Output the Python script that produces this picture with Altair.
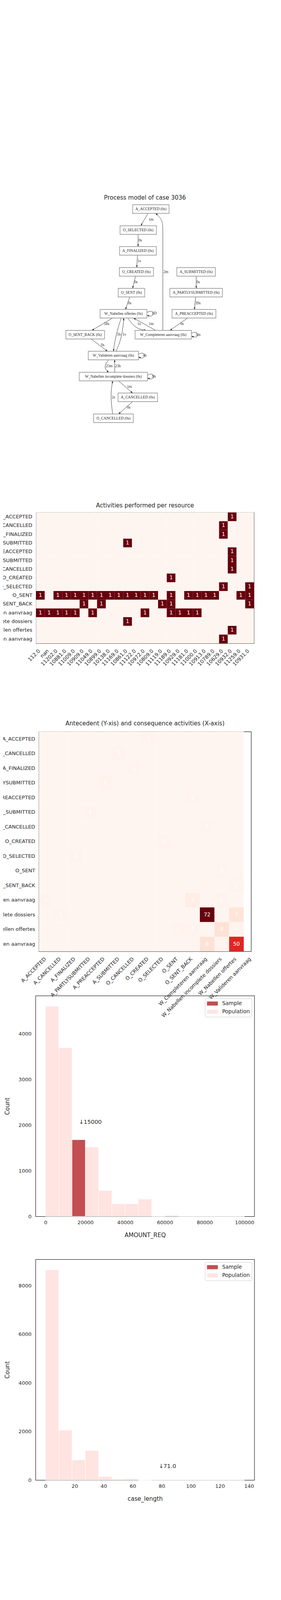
import json

import altair as alt
import numpy as np
import pandas as pd

FONT = "DejaVu Sans"
SERIF = "Liberation Serif"
INK = "#262626"

# ---------------------------------------------------------
# DATA
# ---------------------------------------------------------
ACTIVITIES = [
    "A_ACCEPTED", "A_CANCELLED", "A_FINALIZED", "A_PARTLYSUBMITTED",
    "A_PREACCEPTED", "A_SUBMITTED", "O_CANCELLED", "O_CREATED",
    "O_SELECTED", "O_SENT", "O_SENT_BACK", "W_Completeren aanvraag",
    "W_Nabellen incomplete dossiers", "W_Nabellen offertes",
    "W_Valideren aanvraag",
]

RESOURCES = [
    "112.0", "nan", "11202.0", "10881.0", "11009.0", "10909.0", "11049.0",
    "10899.0", "10138.0", "11169.0", "10861.0", "11122.0", "10972.0",
    "10809.0", "11119.0", "11189.0", "10929.0", "11181.0", "11000.0",
    "10913.0", "10789.0", "10629.0", "10932.0", "11259.0", "10931.0",
]

# index of the resources (in RESOURCES) that performed each activity once
PERFORMED_BY = {
    "A_ACCEPTED": [22],
    "A_CANCELLED": [21],
    "A_FINALIZED": [21],
    "A_PARTLYSUBMITTED": [10],
    "A_PREACCEPTED": [22],
    "A_SUBMITTED": [22],
    "O_CANCELLED": [22],
    "O_CREATED": [15],
    "O_SELECTED": [21, 24],
    "O_SENT": [0, 2, 3, 4, 5, 6, 7, 8, 9, 10, 11, 12, 13, 15, 17, 18, 19, 20, 23, 24],
    "O_SENT_BACK": [5, 7, 14, 15, 24],
    "W_Completeren aanvraag": [0, 1, 2, 3, 4, 6, 12, 15, 16, 17, 18],
    "W_Nabellen incomplete dossiers": [10],
    "W_Nabellen offertes": [22],
    "W_Valideren aanvraag": [21],
}

# antecedent (rows) x consequence (14 columns, drawn under the first 14 labels)
TRANSITIONS = [
    [0, 0, 0, 0, 0, 0, 0, 1, 0, 0, 0, 0, 0, 0],
    [0, 0, 0, 0, 0, 1, 0, 0, 0, 0, 0, 0, 0, 0],
    [0, 0, 0, 0, 0, 0, 1, 0, 0, 0, 0, 0, 0, 0],
    [0, 0, 0, 0, 1, 0, 0, 0, 0, 0, 0, 0, 0, 0],
    [0, 0, 0, 0, 0, 0, 0, 0, 0, 0, 1, 0, 0, 0],
    [0, 0, 0, 1, 0, 0, 0, 0, 0, 0, 0, 0, 0, 0],
    [0, 0, 0, 0, 0, 0, 0, 0, 0, 0, 0, 1, 0, 0],
    [0, 0, 0, 0, 0, 0, 0, 0, 1, 0, 0, 0, 0, 0],
    [0, 0, 1, 0, 0, 0, 0, 0, 0, 0, 0, 0, 0, 0],
    [0, 0, 0, 0, 0, 0, 0, 0, 0, 0, 0, 0, 1, 0],
    [0, 0, 0, 0, 0, 0, 0, 0, 0, 0, 0, 0, 0, 1],
    [1, 0, 0, 0, 0, 0, 0, 0, 0, 0, 3, 0, 1, 0],
    [0, 1, 0, 0, 0, 0, 0, 0, 0, 0, 0, 72, 0, 7],
    [0, 0, 0, 0, 0, 0, 0, 0, 0, 1, 1, 0, 8, 1],
    [0, 0, 0, 0, 0, 0, 0, 0, 0, 0, 0, 8, 1, 50],
]

# process model (graph layout points, y grows downwards)
NODE_LABELS = [
    "A_ACCEPTED (0s)", "O_SELECTED (0s)", "A_FINALIZED (0s)", "O_CREATED (0s)",
    "A_SUBMITTED (0s)", "O_SENT (0s)", "A_PARTLYSUBMITTED (0s)",
    "W_Nabellen offertes (0s)", "A_PREACCEPTED (0s)", "O_SENT_BACK (0s)",
    "W_Completeren aanvraag (0s)", "W_Valideren aanvraag (0s)",
    "W_Nabellen incomplete dossiers (0s)", "A_CANCELLED (0s)", "O_CANCELLED (0s)",
]
NODE_X = [386, 353.7, 353, 349, 502, 336.3, 502, 316, 496.5, 217.8, 417.8, 290, 290, 352.5, 290.2]
NODE_Y = [531.3, 585, 638.3, 692, 692, 745.3, 745.3, 799.3, 799.3, 852.8, 852.8, 906.3, 960, 1013.3, 1066.8]
NODE_W = [93.4, 93.3, 94, 87.4, 98.6, 68, 134.6, 120, 112.4, 99, 144.3, 128.6, 174.6, 101, 101.7]
NODE_H = 22

EDGE_LABELS = ["1m", "0s", "1s", "0s", "0s", "0s", "39s", "2m", "3D", "58s", "5h", "1s",
               "1s", "1m", "0s", "5m", "0s", "4h", "23m", "23h", "9h", "1m", "0s", "2s"]
EDGE_POINTS = [
    [(378.7, 542.3), (360.3, 573.7)],
    [(353.3, 596.3), (353.3, 627)],
    [(351.7, 649.7), (350, 680.7)],
    [(346.7, 703.3), (339.3, 734)],
    [(331.7, 756.7), (321, 788.3)],
    [(502.3, 703.3), (502.3, 734)],
    [(500.7, 756.7), (497.7, 788.3)],
    [(416.7, 841.7), (416.7, 700), (416.7, 590), (416.7, 562), (406, 549), (398.3, 542.3)],
    [(376, 795.5), (392, 790), (392, 808), (376, 803)],
    [(287.7, 810.3), (235, 841.7)],
    [(310, 810.3), (302, 835), (295, 862), (290, 895.3)],
    [(296.7, 895.3), (307, 872), (314, 842), (316.7, 810.3)],
    [(326.7, 810.3), (342, 830), (356, 839), (374, 841.7)],
    [(398.3, 841.7), (341.7, 810.3)],
    [(480, 810.3), (435, 841.7)],
    [(490, 849), (506, 843.5), (506, 862), (490, 856.5)],
    [(233.3, 864), (275, 895.3)],
    [(354.3, 902.5), (370, 897), (370, 915.5), (354.3, 910)],
    [(277.7, 917.3), (268, 930), (269, 942), (278.3, 949)],
    [(293.3, 949), (293.3, 917.3)],
    [(377.3, 956.2), (393, 950.5), (393, 969), (377.3, 963.7)],
    [(303.3, 971), (339.3, 1002.3)],
    [(339.3, 1024.3), (303.3, 1055.7)],
    [(288.3, 1055.7), (284, 1025), (284, 995), (288.3, 971)],
]
EDGE_LABEL_X = [380.5, 354.5, 352, 343.5, 327.5, 503, 500, 418.5, 389, 266, 299.3, 313.3,
                351.7, 380.7, 461.7, 501, 258.3, 365.5, 270.7, 294.3, 388.8, 325, 325, 285.7]
EDGE_LABEL_Y = [557.7, 611, 664.3, 718.3, 771.7, 718.3, 771.7, 691.7, 798.3, 825, 851.7, 851.7,
                825, 825, 825, 852.8, 879, 906.3, 932.7, 932.7, 960, 986, 1039.3, 1012.7]
GRAPH_X = [91, 651]
GRAPH_Y = [526, 1092]

# histograms (15 bins each)
AMOUNT_COUNTS = [4603, 3694, 1679, 1517, 569, 277, 277, 379, 0, 25, 0, 0, 0, 0, 0]
AMOUNT_RANGE = [0, 100000]
AMOUNT_SAMPLE = 15000
CASE_COUNTS = [8646, 2054, 830, 1216, 148, 37, 52, 0, 0, 0, 0, 0, 0, 0, 1]
CASE_RANGE = [0, 136.9]
CASE_SAMPLE = 71.0

SAMPLE_COLOR = "#c44e52"
POPULATION_COLOR = "#ffe4e1"
# matplotlib "Reds" colour stops
REDS = ["#fff5f0", "#fee0d2", "#fcbba1", "#fc9272", "#fb6a4a",
        "#ef3b2c", "#cb181d", "#a50f15", "#67000d"]


def reds_scale(vmax):
    return alt.Scale(domain=list(np.linspace(0, vmax, len(REDS))), range=REDS, interpolate="rgb")


# ---------------------------------------------------------
# PROCESS MODEL
# ---------------------------------------------------------
def process_model():
    nodes = pd.DataFrame({"label": NODE_LABELS, "cx": NODE_X, "cy": NODE_Y, "w": NODE_W})
    nodes["x0"] = nodes["cx"] - nodes["w"] / 2
    nodes["x1"] = nodes["cx"] + nodes["w"] / 2
    nodes["y0"] = nodes["cy"] - NODE_H / 2
    nodes["y1"] = nodes["cy"] + NODE_H / 2

    path_rows, heads = [], []
    for i, pts in enumerate(EDGE_POINTS):
        for k, (px, py) in enumerate(pts):
            path_rows.append({"edge": i, "k": k, "px": px, "py": py})
        (ax, ay), (bx, by) = pts[-2], pts[-1]
        dx, dy = bx - ax, by - ay
        n = np.hypot(dx, dy)
        heads.append({
            "px": bx - 2.7 * dx / n,
            "py": by - 2.7 * dy / n,
            "angle": float(np.degrees(np.arctan2(dx, -dy)) % 360),
        })
    paths = pd.DataFrame(path_rows)
    heads = pd.DataFrame(heads)
    labels = pd.DataFrame({"px": EDGE_LABEL_X, "py": EDGE_LABEL_Y, "t": EDGE_LABELS})

    xs = alt.Scale(domain=GRAPH_X, nice=False, zero=False)
    ys = alt.Scale(domain=GRAPH_Y, nice=False, zero=False, reverse=True)

    edges = alt.Chart(paths).mark_line(interpolate="basis", color="#3a3a3a", strokeWidth=1).encode(
        x=alt.X("px:Q", scale=xs, axis=None),
        y=alt.Y("py:Q", scale=ys, axis=None),
        detail="edge:N",
        order="k:Q",
    )
    arrows = alt.Chart(heads).mark_point(
        shape="M0,-1L0.75,1L-0.75,1Z", filled=True, color="#222222", size=30, opacity=1
    ).encode(
        x=alt.X("px:Q", scale=xs, axis=None),
        y=alt.Y("py:Q", scale=ys, axis=None),
        angle=alt.Angle("angle:Q", scale=None),
    )
    boxes = alt.Chart(nodes).mark_rect(fill="white", stroke="#8a8a8a", strokeWidth=1.4).encode(
        x=alt.X("x0:Q", scale=xs, axis=None),
        x2="x1:Q",
        y=alt.Y("y0:Q", scale=ys, axis=None),
        y2="y1:Q",
    )
    names = alt.Chart(nodes).mark_text(font=SERIF, fontSize=9.7, color=INK).encode(
        x=alt.X("cx:Q", scale=xs, axis=None),
        y=alt.Y("cy:Q", scale=ys, axis=None),
        text="label:N",
    )
    times = alt.Chart(labels).mark_text(font=SERIF, fontSize=9.7, color=INK, align="left").encode(
        x=alt.X("px:Q", scale=xs, axis=None),
        y=alt.Y("py:Q", scale=ys, axis=None),
        text="t:N",
    )
    return (edges + arrows + boxes + names + times).properties(
        width=GRAPH_X[1] - GRAPH_X[0],
        height=GRAPH_Y[1] - GRAPH_Y[0],
        title=alt.TitleParams("Process model of case 3036", offset=10),
        view=alt.ViewBackground(strokeOpacity=0),
    )


# ---------------------------------------------------------
# HEATMAPS
# ---------------------------------------------------------
def rotated_x_axis(**extra):
    return alt.Axis(title=None, labelAngle=-45, labelAlign="right", labelBaseline="alphabetic",
                    labelPadding=20, labelOverlap=False, labelFontSize=13, labelLimit=400,
                    **extra)


def left_y_axis():
    return alt.Axis(title=None, labelPadding=10, labelFontSize=13, labelLimit=400, labelOverlap=False)


def resource_heatmap():
    rows = []
    for a in ACTIVITIES:
        for j, r in enumerate(RESOURCES):
            rows.append({"activity": a, "resource": r, "n": 1 if j in PERFORMED_BY[a] else 0})
    df = pd.DataFrame(rows)
    band = alt.Scale(paddingInner=0, paddingOuter=0)
    base = alt.Chart(df).encode(
        x=alt.X("resource:N", sort=RESOURCES, scale=band, axis=rotated_x_axis()),
        y=alt.Y("activity:N", sort=ACTIVITIES, scale=band, axis=left_y_axis()),
    )
    cells = base.mark_rect().encode(color=alt.Color("n:Q", scale=reds_scale(1), legend=None))
    text = base.transform_filter("datum.n > 0").mark_text(color="white", fontSize=13.5).encode(text="n:Q")
    return (cells + text).properties(
        width=25 * 22.33, height=15 * 22.33,
        title=alt.TitleParams("Activities performed per resource", offset=10),
    )


def transition_heatmap():
    rows = []
    for i, a in enumerate(ACTIVITIES):
        for j, v in enumerate(TRANSITIONS[i]):
            rows.append({"ante": a, "c0": j - 0.5, "c1": j + 0.5, "mid": j, "v": v})
    df = pd.DataFrame(rows)
    x_axis = rotated_x_axis(
        values=list(range(len(ACTIVITIES))),
        labelExpr=json.dumps(ACTIVITIES) + "[datum.value]",
        labelFlush=False,
    )
    x_scale = alt.Scale(domain=[-0.5, 14], nice=False, zero=False)
    y_enc = alt.Y("ante:N", sort=ACTIVITIES, scale=alt.Scale(paddingInner=0, paddingOuter=0),
                  axis=left_y_axis())
    cells = alt.Chart(df).mark_rect().encode(
        x=alt.X("c0:Q", scale=x_scale, axis=x_axis),
        x2="c1:Q",
        y=y_enc,
        color=alt.Color("v:Q", scale=reds_scale(72), legend=None),
    )
    text = alt.Chart(df).transform_filter("datum.v > 0").mark_text(
        color="white", fontSize=13.5
    ).encode(
        x=alt.X("mid:Q", scale=x_scale, axis=x_axis),
        y=y_enc,
        text="v:Q",
    )
    return (cells + text).properties(
        width=14.5 * 37.5, height=15 * 37.5,
        title=alt.TitleParams("Antecedent (Y-xis) and consequence activities (X-axis)", offset=13),
    )


# ---------------------------------------------------------
# HISTOGRAMS
# ---------------------------------------------------------
def histogram(counts, rng, sample, xtitle, xdom, xticks, ydom, yticks, note_x, note_y):
    edges = np.linspace(rng[0], rng[1], len(counts) + 1)
    df = pd.DataFrame({"lo": edges[:-1], "hi": edges[1:], "count": counts, "series": "Population"})
    k = int(min(np.searchsorted(edges, sample, side="right") - 1, len(counts) - 1))
    df = pd.concat([df, df.iloc[[k]].assign(series="Sample")], ignore_index=True)

    x_enc = alt.X("lo:Q", scale=alt.Scale(domain=xdom, nice=False, zero=False),
                  axis=alt.Axis(values=xticks, format="d", title=xtitle, labelFontSize=13,
                                labelPadding=9, titlePadding=18, titleFontSize=15,
                                labelFlush=False, labelOverlap=False))
    y_enc = alt.Y("count:Q", scale=alt.Scale(domain=ydom, nice=False, zero=False),
                  axis=alt.Axis(values=yticks, format="d", title="Count", labelFontSize=13,
                                labelPadding=11, titlePadding=21, titleFontSize=15,
                                labelFlush=False, labelOverlap=False))
    bars = alt.Chart(df).mark_rect(stroke="white", strokeWidth=1).encode(
        x=x_enc,
        x2="hi:Q",
        y=y_enc,
        y2=alt.datum(0),
        color=alt.Color(
            "series:N",
            scale=alt.Scale(domain=["Sample", "Population"], range=[SAMPLE_COLOR, POPULATION_COLOR]),
            legend=alt.Legend(
                title=None, orient="top-right", offset=7, fillColor="white", strokeColor="#cccccc",
                cornerRadius=3, padding=5, symbolType="M-1,-0.38H1V0.38H-1Z", symbolSize=784,
                symbolStrokeWidth=0, labelFontSize=13.5, labelOffset=11, rowPadding=5,
                clipHeight=16, labelColor=INK,
            ),
        ),
    )
    note_text = "\u2193" + (f"{sample:.1f}" if isinstance(sample, float) else str(sample))
    note = alt.Chart(pd.DataFrame({"lo": [note_x], "count": [note_y], "t": [note_text]})).mark_text(
        align="left", fontSize=14.5, color=INK
    ).encode(x=x_enc, y=y_enc, text="t:N")
    return (bars + note).properties(width=560.6, height=565)


def spacer(h):
    return alt.Chart(pd.DataFrame({"s": [0]})).mark_point(opacity=0).encode(
        x=alt.value(0), y=alt.value(0)
    ).properties(width=10, height=h, view=alt.ViewBackground(strokeOpacity=0))


hist_amount = histogram(AMOUNT_COUNTS, AMOUNT_RANGE, AMOUNT_SAMPLE, "AMOUNT_REQ",
                        [-5000, 105000], [0, 20000, 40000, 60000, 80000, 100000],
                        [0, 4833], [0, 1000, 2000, 3000, 4000], 16800, 2065)
hist_case = histogram(CASE_COUNTS, CASE_RANGE, CASE_SAMPLE, "case_length",
                      [-6.85, 143.75], [0, 20, 40, 60, 80, 100, 120, 140],
                      [0, 9078], [0, 2000, 4000, 6000, 8000], 77.9, 564)

chart = alt.vconcat(
    process_model(), spacer(215.7),
    resource_heatmap(), spacer(225.6),
    transition_heatmap(), spacer(113),
    hist_amount, spacer(109.5),
    hist_case,
    spacing=0, bounds="flush", center=True,
).properties(
    padding={"left": -138, "top": 490, "right": 5, "bottom": 20},
).configure(
    font=FONT,
).configure_view(
    stroke=INK, strokeWidth=1.25,
).configure_title(
    fontSize=15, fontWeight="normal", color=INK, font=FONT, anchor="middle",
).configure_axis(
    labelColor=INK, titleColor=INK, labelFont=FONT, titleFont=FONT, titleFontWeight="normal",
    grid=False, domain=False, ticks=False, tickSize=0,
)

chart.save("out.html", embed_options={"renderer": "svg", "actions": False})
